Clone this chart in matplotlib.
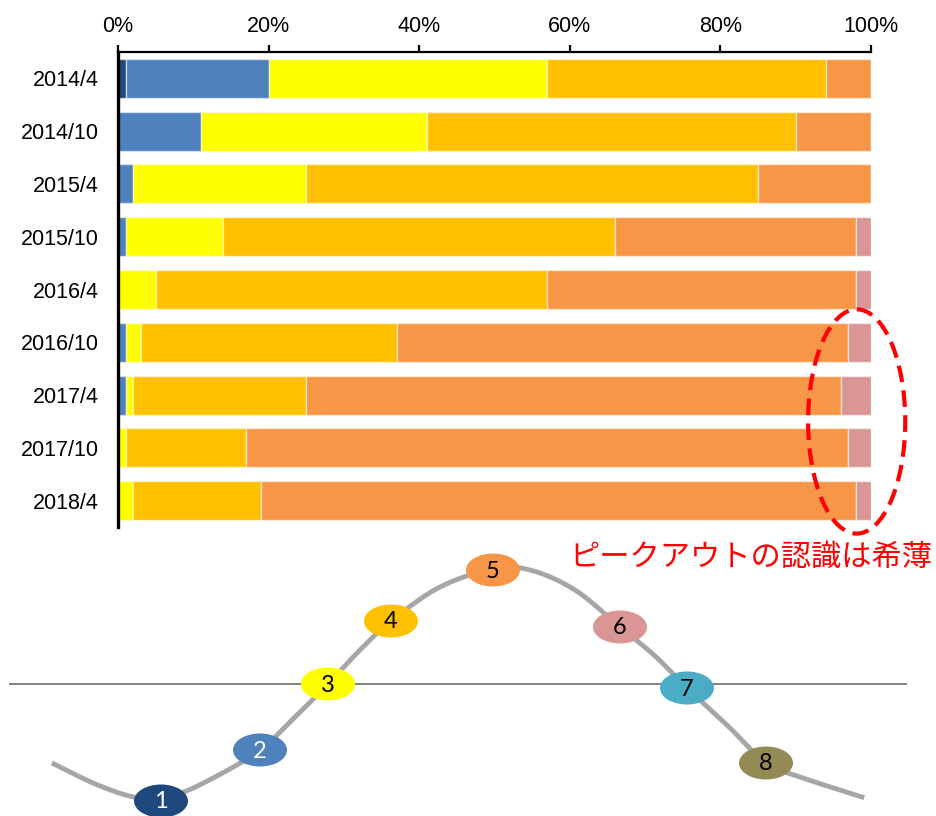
import matplotlib.pyplot as plt
import numpy as np
from matplotlib.patches import Ellipse

# 調査時期ごとの景況段階の構成比（%）
periods = ['2014/4', '2014/10', '2015/4', '2015/10', '2016/4',
           '2016/10', '2017/4', '2017/10', '2018/4']
stage1 = [1, 0, 0, 0, 0, 0, 0, 0, 0]
stage2 = [19, 11, 2, 1, 0, 1, 1, 0, 0]
stage3 = [37, 30, 23, 13, 5, 2, 1, 1, 2]
stage4 = [37, 49, 60, 52, 52, 34, 23, 16, 17]
stage5 = [6, 10, 15, 32, 41, 60, 71, 80, 79]
stage6 = [0, 0, 0, 2, 2, 3, 4, 3, 2]
xticks = [0, 20, 40, 60, 80, 100]

stage_colors = ['#1F497D', '#4F81BD', '#FFFF00', '#FFC000',
                '#F79646', '#DA9694', '#4BACC6', '#948A54']

# 景気循環の模式図（位置は図のピクセル座標）
stage_labels = ['1', '2', '3', '4', '5', '6', '7', '8']
stage_x = [161, 260, 328, 391, 493, 620, 687, 766]
stage_y = [801, 750, 684, 621, 570, 627, 688, 763]
curve_x = [54, 100, 140, 175, 215, 260, 295, 328, 360, 391, 440, 493, 530,
           575, 620, 655, 687, 728, 766, 800, 862]
curve_y = [764, 786, 798, 795, 777, 750, 717, 684, 650, 621, 587, 569, 570,
           590, 627, 656, 688, 726, 763, 777, 797]

W, H = 937, 816
fig = plt.figure(figsize=(W / 100, H / 100), dpi=100)

ax = fig.add_axes([118 / W, 1 - 527 / H, 753 / W, 475 / H])
series = [stage1, stage2, stage3, stage4, stage5, stage6]
left = np.zeros(len(periods))
ypos = np.arange(len(periods))
for vals, col in zip(series, stage_colors):
    vals = np.array(vals, dtype=float)
    ax.barh(ypos, vals, left=left, height=0.74, color=col,
            edgecolor=(1, 1, 1, 0.55), linewidth=1.0)
    left += vals

ax.set_xlim(0, 100)
ax.set_ylim(8.5, -0.5)
ax.set_yticks(ypos)
ax.set_yticklabels(periods, family='Liberation Sans', fontsize=15.5)
ax.set_xticks(xticks)
ax.set_xticklabels([f'{t}%' for t in xticks], family='Liberation Sans',
                   fontsize=15.5)
ax.xaxis.tick_top()
ax.tick_params(axis='x', direction='out', length=5, width=1.6, pad=6)
ax.tick_params(axis='y', length=0, pad=14)
for s in ['right', 'bottom']:
    ax.spines[s].set_visible(False)
ax.spines['top'].set_linewidth(1.6)
ax.spines['left'].set_linewidth(2.4)

# ピークアウト段階を囲む破線の楕円
ax.add_patch(Ellipse((98.1, 6.5), 12.9, 4.25, fill=False, edgecolor='#FF0000',
                     linewidth=3, linestyle=(0, (4, 2)), clip_on=False,
                     zorder=5))

# 下段の模式図
dg = fig.add_axes([0, 0, 1, 1], zorder=3)
dg.set_xlim(0, W)
dg.set_ylim(H, 0)
dg.axis('off')

dg.plot([10, 906], [684, 684], color='#808080', linewidth=1.4, zorder=1)


def catmull_rom(xs, ys, n=20):
    pts = np.column_stack([xs, ys]).astype(float)
    pts = np.vstack([pts[0], pts, pts[-1]])
    out = []
    for i in range(1, len(pts) - 2):
        p0, p1, p2, p3 = pts[i - 1], pts[i], pts[i + 1], pts[i + 2]
        for t in np.linspace(0, 1, n, endpoint=False):
            t2, t3 = t * t, t * t * t
            out.append(0.5 * (2 * p1 + (-p0 + p2) * t
                              + (2 * p0 - 5 * p1 + 4 * p2 - p3) * t2
                              + (-p0 + 3 * p1 - 3 * p2 + p3) * t3))
    out.append(pts[-2])
    return np.array(out)


cv = catmull_rom(curve_x, curve_y)
dg.plot(cv[:, 0], cv[:, 1], color='#A6A6A6', linewidth=3.5, zorder=2)

for lab, x, y, col in zip(stage_labels, stage_x, stage_y, stage_colors):
    dg.add_patch(Ellipse((x, y), 54, 33, facecolor=col, edgecolor='none',
                         zorder=4))
    tc = 'white' if lab in ('1', '2') else 'black'
    dg.text(x, y + 1, lab, ha='center', va='center', fontsize=17,
            family='Lato', color=tc, zorder=5)

dg.text(932, 557, 'ピークアウトの認識は希薄', ha='right', va='center',
        fontsize=21.8, family=['Noto Sans CJK JP', 'DejaVu Sans'],
        color='#FF0000', zorder=5)

plt.savefig('out.png', dpi=100)
